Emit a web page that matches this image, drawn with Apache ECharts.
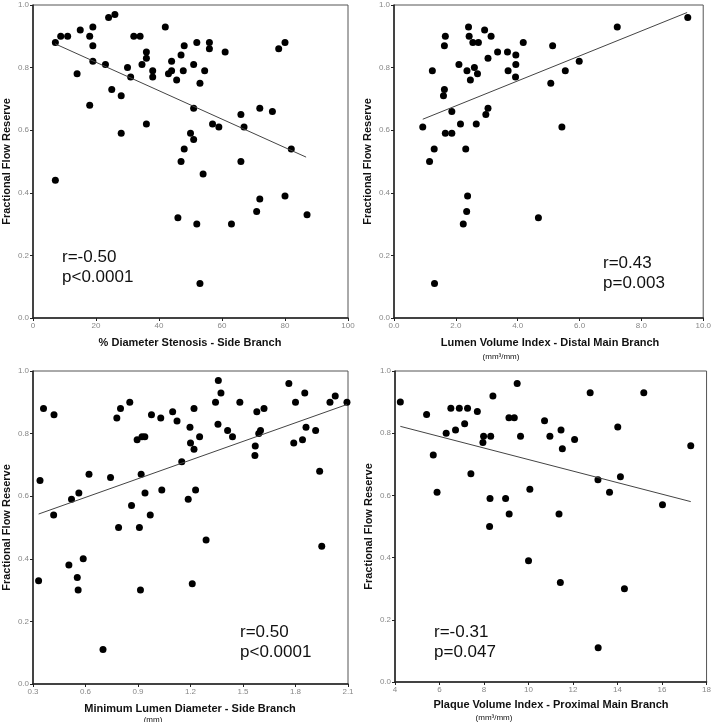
<!DOCTYPE html>
<html>
<head>
<meta charset="utf-8">
<title>FFR correlations</title>
<script src="https://cdn.jsdelivr.net/npm/echarts@6/dist/echarts.min.js"></script>
<style>
  html, body { margin: 0; padding: 0; background: #fff; }
</style>
</head>
<body>
<div id="main" style="width: 714px;height: 722px;"></div>
<script>
// panel A: % diameter stenosis (side branch) vs FFR
var stenosisX = [7.1, 8.8, 11, 15, 18, 19, 19, 19, 14, 18, 7.1, 24, 26, 23, 25, 28, 28, 30, 31, 32, 34, 34.6, 36, 36, 36, 38, 38, 42, 43, 44, 44, 45.6, 47, 48, 47.7, 51, 52, 53, 54.5, 56, 56, 61, 51, 50, 51, 48, 47, 54, 57, 59, 66, 67, 72, 76, 78, 80, 82, 66, 80, 72, 71, 87, 63, 52, 46, 53];
var stenosisFFR = [0.88, 0.90, 0.90, 0.92, 0.90, 0.93, 0.87, 0.82, 0.78, 0.68, 0.44, 0.96, 0.97, 0.81, 0.73, 0.71, 0.59, 0.80, 0.77, 0.90, 0.90, 0.81, 0.83, 0.85, 0.62, 0.79, 0.77, 0.93, 0.78, 0.79, 0.82, 0.76, 0.84, 0.87, 0.79, 0.81, 0.88, 0.75, 0.79, 0.88, 0.86, 0.85, 0.67, 0.59, 0.57, 0.54, 0.50, 0.46, 0.62, 0.61, 0.65, 0.61, 0.67, 0.66, 0.86, 0.88, 0.54, 0.50, 0.39, 0.38, 0.34, 0.33, 0.30, 0.30, 0.32, 0.11];
var stenosisFit = [[7, 0.876], [86.7, 0.514]];

// panel B: lumen volume index (distal main branch) vs FFR
var lviX = [0.93, 1.15, 1.24, 1.3, 1.31, 1.6, 1.63, 1.63, 1.66, 1.66, 1.87, 1.87, 2.1, 2.15, 2.24, 2.32, 2.35, 2.38, 2.36, 2.41, 2.43, 2.47, 2.55, 2.6, 2.66, 2.7, 2.73, 2.93, 2.97, 3.04, 3.04, 3.14, 3.35, 3.67, 3.69, 3.94, 3.94, 3.93, 4.18, 4.67, 5.07, 5.13, 5.43, 5.54, 5.99, 7.22, 9.5];
var lviFFR = [0.61, 0.50, 0.79, 0.54, 0.11, 0.71, 0.73, 0.87, 0.90, 0.59, 0.66, 0.59, 0.81, 0.62, 0.30, 0.54, 0.34, 0.39, 0.79, 0.93, 0.90, 0.76, 0.88, 0.80, 0.62, 0.78, 0.88, 0.92, 0.65, 0.67, 0.83, 0.90, 0.85, 0.85, 0.79, 0.84, 0.81, 0.77, 0.88, 0.32, 0.75, 0.87, 0.61, 0.79, 0.82, 0.93, 0.96];
var lviFit = [[0.93, 0.635], [9.48, 0.976]];

// panel C: minimum lumen diameter (side branch) vs FFR
var mldX = [0.332, 0.34, 0.36, 0.418, 0.42, 0.505, 0.52, 0.553, 0.558, 0.562, 0.587, 0.62, 0.70, 0.743, 0.779, 0.789, 0.80, 0.853, 0.863, 0.895, 0.908, 0.914, 0.918, 0.923, 0.939, 0.94, 0.97, 0.977, 1.036, 1.03, 1.098, 1.123, 1.15, 1.187, 1.197, 1.20, 1.21, 1.22, 1.22, 1.229, 1.252, 1.289, 1.343, 1.357, 1.359, 1.374, 1.412, 1.44, 1.482, 1.568, 1.57, 1.579, 1.59, 1.60, 1.62, 1.762, 1.79, 1.80, 1.84, 1.853, 1.86, 1.915, 1.938, 1.95, 1.997, 2.027, 2.094];
var mldFFR = [0.33, 0.65, 0.88, 0.54, 0.86, 0.38, 0.59, 0.34, 0.30, 0.61, 0.40, 0.67, 0.11, 0.66, 0.85, 0.50, 0.88, 0.90, 0.57, 0.78, 0.50, 0.30, 0.67, 0.79, 0.79, 0.61, 0.54, 0.86, 0.62, 0.85, 0.87, 0.84, 0.71, 0.59, 0.82, 0.77, 0.32, 0.75, 0.88, 0.62, 0.79, 0.46, 0.90, 0.83, 0.97, 0.93, 0.81, 0.79, 0.90, 0.73, 0.76, 0.87, 0.80, 0.81, 0.88, 0.96, 0.77, 0.90, 0.78, 0.93, 0.82, 0.81, 0.68, 0.44, 0.90, 0.92, 0.90];
var mldFit = [[0.332, 0.543], [2.094, 0.893]];

// panel D: plaque volume index (proximal main branch) vs FFR
var pviX = [4.24, 5.42, 5.72, 5.89, 6.3, 6.51, 6.72, 6.89, 7.13, 7.26, 7.41, 7.7, 7.95, 7.98, 8.25, 8.27, 8.3, 8.4, 8.97, 9.12, 9.13, 9.36, 9.49, 9.64, 10.0, 10.06, 10.72, 10.96, 11.37, 11.43, 11.46, 11.52, 12.07, 12.77, 13.12, 13.13, 13.64, 14.01, 14.13, 14.31, 15.18, 16.02, 17.29];
var pviFFR = [0.90, 0.86, 0.73, 0.61, 0.80, 0.88, 0.81, 0.88, 0.83, 0.88, 0.67, 0.87, 0.77, 0.79, 0.50, 0.59, 0.79, 0.92, 0.59, 0.85, 0.54, 0.85, 0.96, 0.79, 0.39, 0.62, 0.84, 0.79, 0.54, 0.32, 0.81, 0.75, 0.78, 0.93, 0.65, 0.11, 0.61, 0.82, 0.66, 0.30, 0.93, 0.57, 0.76];
var pviFit = [[4.24, 0.822], [17.29, 0.580]];

var yTicks = ['0.0', '0.2', '0.4', '0.6', '0.8', '1.0'];

var FONT = 'Liberation Sans, Arial, sans-serif';

function zip(xs, ys) {
  var out = [];
  for (var i = 0; i < xs.length; i++) out.push([xs[i], ys[i]]);
  return out;
}

var grids = [
  { left: 32, top: 5, width: 316, height: 313 },
  { left: 394, top: 5, width: 313, height: 313 },
  { left: 32, top: 371, width: 316, height: 313 },
  { left: 395, top: 371, width: 312, height: 311 }
];
grids.forEach(function (g) {
  g.show = true;
  g.borderColor = '#555';
  g.borderWidth = 1;
  g.backgroundColor = '#fff';
});

function xAxisOf(idx, min, max, step, digits) {
  return {
    type: 'value', gridIndex: idx, min: min, max: max, interval: step,
    axisLine: { onZero: false, lineStyle: { color: '#222', width: 1.5 } },
    axisTick: { length: 3, lineStyle: { color: '#222' } },
    splitLine: { show: false },
    axisLabel: { color: '#888', fontSize: 8, fontFamily: FONT, margin: 4,
      formatter: function (v) { return v.toFixed(digits); } }
  };
}
function yAxisOf(idx) {
  return {
    type: 'value', gridIndex: idx, min: 0, max: 1, interval: 0.2,
    name: 'Fractional Flow Reserve', nameLocation: 'middle', nameGap: 21,
    nameTextStyle: { fontSize: 11, fontWeight: 'bold', fontFamily: FONT, color: '#111' },
    axisLine: { show: true, onZero: false, lineStyle: { color: '#222', width: 1.5 } },
    axisTick: { show: true, length: 3, lineStyle: { color: '#222' } },
    splitLine: { show: false },
    axisLabel: { color: '#888', fontSize: 8, fontFamily: FONT, margin: 4,
      formatter: function (v) { return yTicks[Math.round(v * 5)]; } }
  };
}

function dots(idx, xs, ys) {
  return { type: 'scatter', xAxisIndex: idx, yAxisIndex: idx, data: zip(xs, ys),
    symbolSize: 7, itemStyle: { color: '#000', opacity: 1 }, silent: true };
}
function fit(idx, pts) {
  return { type: 'line', xAxisIndex: idx, yAxisIndex: idx, data: pts, symbol: 'none',
    lineStyle: { color: '#444', width: 1 }, silent: true };
}

function label(x, y, txt, size, bold) {
  return { type: 'text', left: x, top: y, silent: true,
    style: { text: txt, font: (bold ? 'bold ' : '') + size + 'px ' + FONT, fill: '#111' } };
}
function centered(cx, y, txt, size, bold) {
  return { type: 'text', x: cx, y: y, silent: true,
    style: { text: txt, font: (bold ? 'bold ' : '') + size + 'px ' + FONT, fill: '#111',
      align: 'center', verticalAlign: 'middle' } };
}

var myChart = echarts.init(document.getElementById('main'));
var option = {
  animation: false,
  backgroundColor: '#fff',
  grid: grids,
  xAxis: [
    xAxisOf(0, 0, 100, 20, 0),
    xAxisOf(1, 0, 10, 2, 1),
    xAxisOf(2, 0.3, 2.1, 0.3, 1),
    xAxisOf(3, 4, 18, 2, 0)
  ],
  yAxis: [yAxisOf(0), yAxisOf(1), yAxisOf(2), yAxisOf(3)],
  series: [
    dots(0, stenosisX, stenosisFFR), fit(0, stenosisFit),
    dots(1, lviX, lviFFR), fit(1, lviFit),
    dots(2, mldX, mldFFR), fit(2, mldFit),
    dots(3, pviX, pviFFR), fit(3, pviFit)
  ],
  graphic: [
    // axis titles
    centered(190, 343, '% Diameter Stenosis - Side Branch', 11, true),
    centered(550, 343, 'Lumen Volume Index - Distal Main Branch', 11, true),
    centered(501, 357, '(mm³/mm)', 8, false),
    centered(190, 709, 'Minimum Lumen Diameter - Side Branch', 11, true),
    centered(153, 720, '(mm)', 8, false),
    centered(551, 705, 'Plaque Volume Index - Proximal Main Branch', 11, true),
    centered(494, 718, '(mm³/mm)', 8, false),
    // correlation stats
    label(62, 249, 'r=-0.50', 17, false),
    label(62, 269, 'p<0.0001', 17, false),
    label(603, 255, 'r=0.43', 17, false),
    label(603, 275, 'p=0.003', 17, false),
    label(240, 624, 'r=0.50', 17, false),
    label(240, 644, 'p<0.0001', 17, false),
    label(434, 624, 'r=-0.31', 17, false),
    label(434, 644, 'p=0.047', 17, false)
  ]
};
myChart.setOption(option);
</script>
</body>
</html>
